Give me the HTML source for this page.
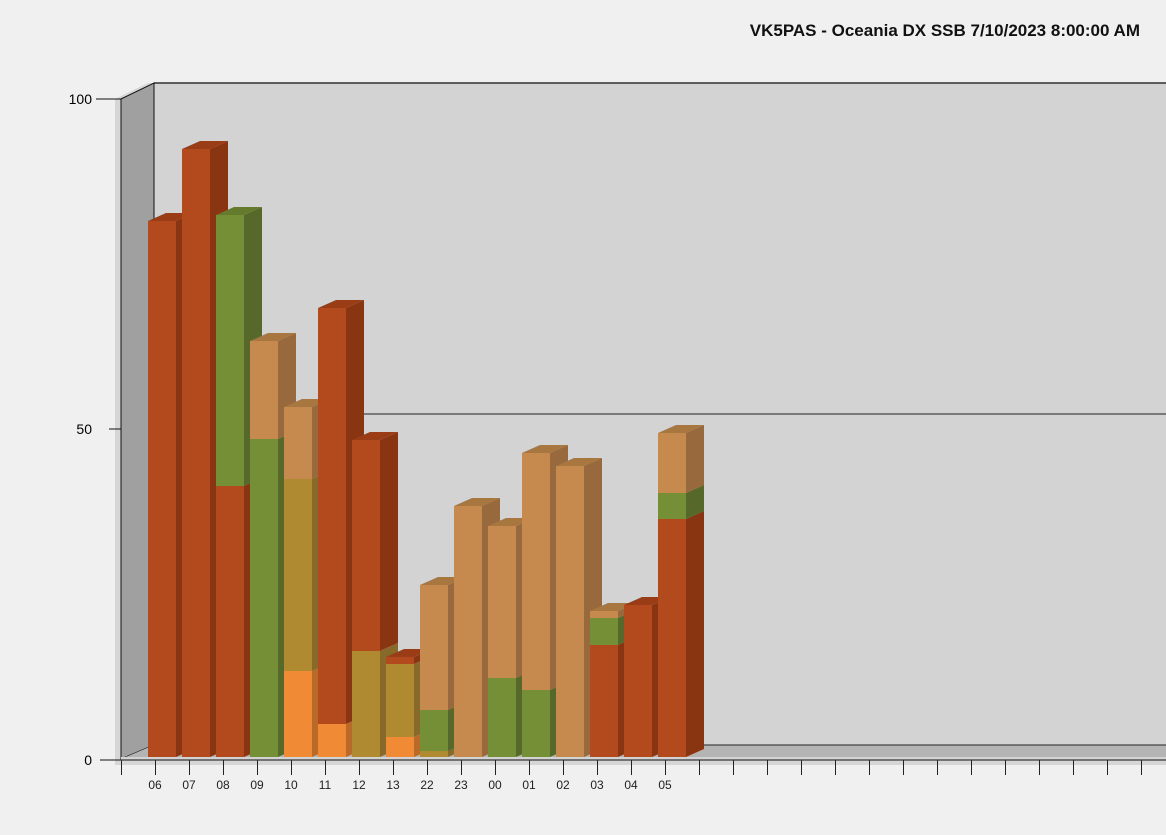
<!DOCTYPE html><html><head><style>body{margin:0;background:#f0f0f0}svg{display:block}text{font-family:"Liberation Sans",sans-serif}
.r0{fill:#b34a1e}.r1{fill:#8a3512}.r2{fill:#9a3c16}
.g0{fill:#758f36}.g1{fill:#56692a}.g2{fill:#647b2e}
.t0{fill:#c68a4e}.t1{fill:#98693c}.t2{fill:#a8763f}
.y0{fill:#b08a30}.y1{fill:#87692a}
.o0{fill:#f08a34}.o1{fill:#b96a28}</style></head><body>
<svg width="1166" height="835" xmlns="http://www.w3.org/2000/svg">
<rect width="1166" height="835" fill="#f0f0f0"/>
<text x="1140" y="36" text-anchor="end" font-size="17" font-weight="bold" fill="#111">VK5PAS - Oceania DX SSB 7/10/2023 8:00:00 AM</text>
<polygon points="115,99 148,83 154,83 121,99 121,765 115,765" fill="#d6d6d6"/>
<rect x="115" y="759" width="1051" height="6" fill="#d6d6d6"/>
<rect x="154" y="83" width="1012" height="662" fill="#d3d3d3"/>
<line x1="154" y1="83" x2="1166" y2="83" stroke="#333" stroke-width="1.5"/>
<line x1="154" y1="414" x2="1166" y2="414" stroke="#222"/>
<polygon points="121,99 154,83 154,745 121,759" fill="#a0a0a0" stroke="#111" stroke-width="1"/>
<polygon points="121,759 154,745 1166,745 1166,759" fill="#b4b4b4"/>
<line x1="154" y1="745" x2="1166" y2="745" stroke="#222"/>
<rect x="121" y="757" width="1045" height="3" fill="#d3d3d3"/>
<line x1="100" y1="760" x2="1166" y2="760" stroke="#111"/>
<line x1="96" y1="99" x2="121" y2="99" stroke="#111"/>
<line x1="109" y1="429" x2="121" y2="429" stroke="#111"/>
<text x="92" y="104" text-anchor="end" font-size="14">100</text>
<text x="92" y="434" text-anchor="end" font-size="14">50</text>
<text x="92" y="765" text-anchor="end" font-size="14">0</text>

<rect class="r0" x="148" y="221" width="28" height="536"/><polygon class="r1" points="176,221 194,213 194,749 176,757"/><polygon class="r2" points="148,221 166,213 194,213 176,221"/>

<rect class="r0" x="182" y="149" width="28" height="608"/><polygon class="r1" points="210,149 228,141 228,749 210,757"/><polygon class="r2" points="182,149 200,141 228,141 210,149"/>

<rect class="g0" x="216" y="215" width="28" height="271"/><polygon class="g1" points="244,215 262,207 262,478 244,486"/><polygon class="g2" points="216,215 234,207 262,207 244,215"/>
<rect class="r0" x="216" y="486" width="28" height="271"/><polygon class="r1" points="244,486 262,478 262,749 244,757"/>

<rect class="t0" x="250" y="341" width="28" height="98"/><polygon class="t1" points="278,341 296,333 296,431 278,439"/><polygon class="t2" points="250,341 268,333 296,333 278,341"/>
<rect class="g0" x="250" y="439" width="28" height="318"/><polygon class="g1" points="278,439 296,431 296,749 278,757"/>

<rect class="t0" x="284" y="407" width="28" height="72"/><polygon class="t1" points="312,407 330,399 330,471 312,479"/><polygon class="t2" points="284,407 302,399 330,399 312,407"/>
<rect class="y0" x="284" y="479" width="28" height="192"/><polygon class="y1" points="312,479 330,471 330,663 312,671"/>
<rect class="o0" x="284" y="671" width="28" height="86"/><polygon class="o1" points="312,671 330,663 330,749 312,757"/>

<rect class="r0" x="318" y="308" width="28" height="416"/><polygon class="r1" points="346,308 364,300 364,716 346,724"/><polygon class="r2" points="318,308 336,300 364,300 346,308"/>
<rect class="o0" x="318" y="724" width="28" height="33"/><polygon class="o1" points="346,724 364,716 364,749 346,757"/>

<rect class="r0" x="352" y="440" width="28" height="211"/><polygon class="r1" points="380,440 398,432 398,643 380,651"/><polygon class="r2" points="352,440 370,432 398,432 380,440"/>
<rect class="y0" x="352" y="651" width="28" height="106"/><polygon class="y1" points="380,651 398,643 398,749 380,757"/>

<rect class="r0" x="386" y="657" width="28" height="7"/><polygon class="r1" points="414,657 432,649 432,656 414,664"/><polygon class="r2" points="386,657 404,649 432,649 414,657"/>
<rect class="y0" x="386" y="664" width="28" height="73"/><polygon class="y1" points="414,664 432,656 432,729 414,737"/>
<rect class="o0" x="386" y="737" width="28" height="20"/><polygon class="o1" points="414,737 432,729 432,749 414,757"/>

<rect class="t0" x="420" y="585" width="28" height="125"/><polygon class="t1" points="448,585 466,577 466,702 448,710"/><polygon class="t2" points="420,585 438,577 466,577 448,585"/>
<rect class="g0" x="420" y="710" width="28" height="41"/><polygon class="g1" points="448,710 466,702 466,743 448,751"/>
<rect class="y0" x="420" y="751" width="28" height="6"/><polygon class="y1" points="448,751 466,743 466,749 448,757"/>

<rect class="t0" x="454" y="506" width="28" height="251"/><polygon class="t1" points="482,506 500,498 500,749 482,757"/><polygon class="t2" points="454,506 472,498 500,498 482,506"/>

<rect class="t0" x="488" y="526" width="28" height="152"/><polygon class="t1" points="516,526 534,518 534,670 516,678"/><polygon class="t2" points="488,526 506,518 534,518 516,526"/>
<rect class="g0" x="488" y="678" width="28" height="79"/><polygon class="g1" points="516,678 534,670 534,749 516,757"/>

<rect class="t0" x="522" y="453" width="28" height="237"/><polygon class="t1" points="550,453 568,445 568,682 550,690"/><polygon class="t2" points="522,453 540,445 568,445 550,453"/>
<rect class="g0" x="522" y="690" width="28" height="67"/><polygon class="g1" points="550,690 568,682 568,749 550,757"/>

<rect class="t0" x="556" y="466" width="28" height="291"/><polygon class="t1" points="584,466 602,458 602,749 584,757"/><polygon class="t2" points="556,466 574,458 602,458 584,466"/>

<rect class="t0" x="590" y="611" width="28" height="7"/><polygon class="t1" points="618,611 636,603 636,610 618,618"/><polygon class="t2" points="590,611 608,603 636,603 618,611"/>
<rect class="g0" x="590" y="618" width="28" height="27"/><polygon class="g1" points="618,618 636,610 636,637 618,645"/>
<rect class="r0" x="590" y="645" width="28" height="112"/><polygon class="r1" points="618,645 636,637 636,749 618,757"/>

<rect class="r0" x="624" y="605" width="28" height="152"/><polygon class="r1" points="652,605 670,597 670,749 652,757"/><polygon class="r2" points="624,605 642,597 670,597 652,605"/>

<rect class="t0" x="658" y="433" width="28" height="60"/><polygon class="t1" points="686,433 704,425 704,485 686,493"/><polygon class="t2" points="658,433 676,425 704,425 686,433"/>
<rect class="g0" x="658" y="493" width="28" height="26"/><polygon class="g1" points="686,493 704,485 704,511 686,519"/>
<rect class="r0" x="658" y="519" width="28" height="238"/><polygon class="r1" points="686,519 704,511 704,749 686,757"/>

<path stroke="#222" fill="none" d="M121.5 760v15M155.5 760v15M189.5 760v15M223.5 760v15M257.5 760v15M291.5 760v15M325.5 760v15M359.5 760v15M393.5 760v15M427.5 760v15M461.5 760v15M495.5 760v15M529.5 760v15M563.5 760v15M597.5 760v15M631.5 760v15M665.5 760v15M699.5 760v15M733.5 760v15M767.5 760v15M801.5 760v15M835.5 760v15M869.5 760v15M903.5 760v15M937.5 760v15M971.5 760v15M1005.5 760v15M1039.5 760v15M1073.5 760v15M1107.5 760v15M1141.5 760v15"/>
<g font-size="12" text-anchor="middle" fill="#222">
<text x="155" y="789">06</text><text x="189" y="789">07</text><text x="223" y="789">08</text><text x="257" y="789">09</text><text x="291" y="789">10</text><text x="325" y="789">11</text><text x="359" y="789">12</text><text x="393" y="789">13</text><text x="427" y="789">22</text><text x="461" y="789">23</text><text x="495" y="789">00</text><text x="529" y="789">01</text><text x="563" y="789">02</text><text x="597" y="789">03</text><text x="631" y="789">04</text><text x="665" y="789">05</text>
</g>
</svg></body></html>
